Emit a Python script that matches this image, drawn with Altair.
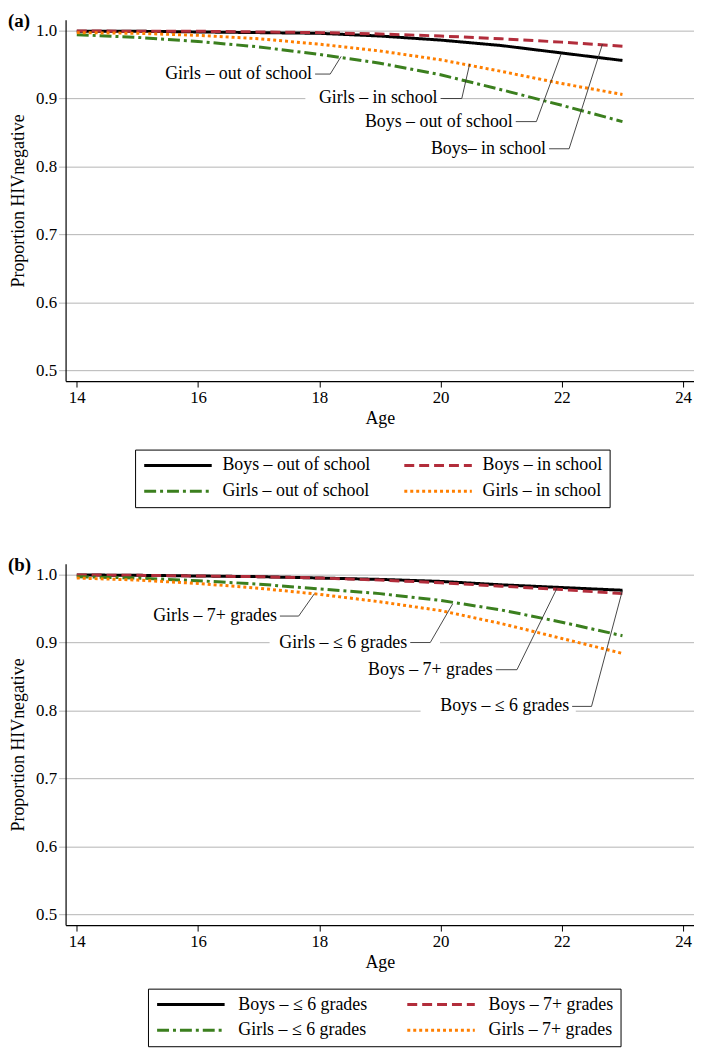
import altair as alt
import pandas as pd

FONT = "Liberation Serif"

# ---------------- data ----------------
AGES = [14, 15, 16, 17, 18, 19, 20, 21, 22, 23]
X_TICKS = [14, 16, 18, 20, 22, 24]
Y_TICKS = [0.5, 0.6, 0.7, 0.8, 0.9, 1.0]

# Panel (a): schooling status
A_SERIES = ["Boys – out of school", "Boys – in school", "Girls – out of school", "Girls – in school"]
A_BOYS_OUT = [0.999, 0.999, 0.998, 0.997, 0.996, 0.992, 0.986, 0.978, 0.967, 0.956]
A_BOYS_IN = [0.9995, 0.999, 0.999, 0.998, 0.997, 0.995, 0.992, 0.988, 0.983, 0.977]
A_GIRLS_OUT = [0.994, 0.990, 0.984, 0.976, 0.965, 0.952, 0.935, 0.913, 0.890, 0.866]
A_GIRLS_IN = [0.997, 0.996, 0.993, 0.988, 0.980, 0.970, 0.957, 0.940, 0.922, 0.906]

A_LABELS = ["Girls – out of school", "Girls – in school", "Boys – out of school", "Boys– in school"]
A_TEXT_X = [17.88, 19.95, 21.19, 21.74]
A_TEXT_Y = [0.936, 0.900, 0.866, 0.826]
A_ELBOW_X = [18.18, 20.35, 21.58, 22.12]
A_POINT_X = [18.36, 20.48, 21.99, 22.67]
A_POINT_Y = [0.962, 0.951, 0.966, 0.980]
A_BOX_X1 = [17.77]
A_BOX_X2 = [20.04]
A_BOX_Y = [0.900]

# Panel (b): grades completed
B_SERIES = ["Boys – ≤ 6 grades", "Boys – 7+ grades", "Girls – ≤ 6 grades", "Girls – 7+ grades"]
B_BOYS_LE6 = [0.9995, 0.999, 0.998, 0.997, 0.995, 0.993, 0.990, 0.985, 0.981, 0.977]
B_BOYS_7P = [0.9995, 0.999, 0.998, 0.997, 0.995, 0.992, 0.988, 0.983, 0.978, 0.972]
B_GIRLS_LE6 = [0.997, 0.995, 0.991, 0.986, 0.979, 0.972, 0.962, 0.948, 0.930, 0.910]
B_GIRLS_7P = [0.995, 0.992, 0.987, 0.980, 0.971, 0.960, 0.947, 0.928, 0.906, 0.884]

B_LABELS = ["Girls – 7+ grades", "Girls – ≤ 6 grades", "Boys – 7+ grades", "Boys – ≤ 6 grades"]
B_TEXT_X = [17.30, 19.45, 20.86, 22.12]
B_TEXT_Y = [0.939, 0.900, 0.860, 0.806]
B_ELBOW_X = [17.66, 19.83, 21.26, 22.49]
B_POINT_X = [17.92, 20.20, 21.92, 23.00]
B_POINT_Y = [0.972, 0.957, 0.980, 0.977]
B_BOX_X1 = [17.18, 19.67]
B_BOX_X2 = [19.99, 22.23]
B_BOX_Y = [0.900, 0.806]

COLORS = ["#000000", "#b22d3b", "#3b7f1e", "#ff7f00"]
DASHES = [[1, 0], [10, 5], [12, 4, 3, 4], [3, 3]]

# ---------------- helpers ----------------
X_AXIS = alt.Axis(values=X_TICKS, title="Age", grid=False, labelFlush=False,
                  tickColor="black", tickSize=6, labelPadding=3, titlePadding=4)
Y_AXIS = alt.Axis(values=Y_TICKS, title="Proportion HIVnegative", format=".1f", grid=True,
                  tickColor="#b4b4b4", tickSize=7, labelPadding=2, titlePadding=8,
                  gridColor="#b4b4b4", gridWidth=1)
X_SCALE = alt.Scale(domain=[13.815, 24.18], nice=False, zero=False)
Y_SCALE = alt.Scale(domain=[0.484, 1.016], nice=False, zero=False)

# legend line symbol: a path from -r to 9r (r = sqrt(size)/2)
SYMBOL_PATH = "M-1,0H9"
SYMBOL_SIZE = 185  # sqrt -> 13.6, so the stroke is ~68 px long


def X(field):
    return alt.X(field, type="quantitative", scale=X_SCALE, axis=X_AXIS)


def Y(field):
    return alt.Y(field, type="quantitative", scale=Y_SCALE, axis=Y_AXIS)


def panel(tag, names, series, labels, tx, ty, ex, px, py, bx1, bx2, by,
          legend_x, legend_y, col_pad, lab_off):
    rows = []
    for name, vals in zip(names, series):
        for a, v in zip(AGES, vals):
            rows.append({"age": a, "p": v, "series": name})
    df = pd.DataFrame(rows)

    legend = alt.Legend(title=None, orient="none", legendX=legend_x, legendY=legend_y,
                        columns=2, direction="horizontal", symbolType=SYMBOL_PATH,
                        symbolSize=SYMBOL_SIZE, symbolStrokeWidth=3, labelFont=FONT,
                        labelFontSize=18, labelColor="black", labelLimit=400,
                        labelOffset=lab_off, columnPadding=col_pad, rowPadding=8,
                        padding=7, strokeColor="black", fillColor="white")

    boxes = pd.DataFrame({"x1": bx1, "x2": bx2,
                          "y1": [b - 0.012 for b in by], "y2": [b + 0.012 for b in by]})
    box_layer = alt.Chart(boxes).mark_rect(fill="white").encode(
        x=X("x1"), x2="x2", y=Y("y1"), y2="y2")

    lines = alt.Chart(df).mark_line(strokeWidth=3, strokeCap="butt").encode(
        x=X("age"), y=Y("p"),
        color=alt.Color("series:N", scale=alt.Scale(domain=names, range=COLORS),
                        sort=names, legend=legend),
        strokeDash=alt.StrokeDash("series:N", scale=alt.Scale(domain=names, range=DASHES),
                                  sort=names, legend=legend),
    )

    lead_rows = []
    for lab, x0, y0, e, cx, cy in zip(labels, tx, ty, ex, px, py):
        lead_rows.append({"label": lab, "ord": 0, "lx": x0 + 0.05, "ly": y0})
        lead_rows.append({"label": lab, "ord": 1, "lx": e, "ly": y0})
        lead_rows.append({"label": lab, "ord": 2, "lx": cx, "ly": cy})
    leaders = alt.Chart(pd.DataFrame(lead_rows)).mark_line(
        color="#333333", strokeWidth=0.9).encode(
        x=X("lx"), y=Y("ly"), detail="label:N", order="ord:Q")

    texts = alt.Chart(pd.DataFrame({"label": labels, "tx": tx, "ty": ty})).mark_text(
        align="right", baseline="middle", font=FONT, fontSize=18, color="black").encode(
        x=X("tx"), y=Y("ty"), text="label:N")

    tag_layer = alt.Chart(pd.DataFrame({"t": [tag]})).mark_text(
        align="left", baseline="middle", font=FONT, fontSize=19, fontWeight="bold",
        color="black").encode(x=alt.value(-58), y=alt.value(1), text="t:N")

    return alt.layer(box_layer, lines, leaders, texts, tag_layer).properties(
        width=633, height=364)


pa = panel("(a)", A_SERIES, [A_BOYS_OUT, A_BOYS_IN, A_GIRLS_OUT, A_GIRLS_IN],
           A_LABELS, A_TEXT_X, A_TEXT_Y, A_ELBOW_X, A_POINT_X, A_POINT_Y,
           A_BOX_X1, A_BOX_X2, A_BOX_Y, 70, 433, 27, 63)
pb = panel("(b)", B_SERIES, [B_BOYS_LE6, B_BOYS_7P, B_GIRLS_LE6, B_GIRLS_7P],
           B_LABELS, B_TEXT_X, B_TEXT_Y, B_ELBOW_X, B_POINT_X, B_POINT_Y,
           B_BOX_X1, B_BOX_X2, B_BOX_Y, 83, 428, 34, 66)

chart = alt.vconcat(pa, pb, spacing=184, bounds="flush").resolve_scale(
    color="independent", strokeDash="independent"
).properties(padding=0).configure_view(stroke=None).configure_axis(
    labelFont=FONT, labelFontSize=17, labelColor="black",
    titleFont=FONT, titleFontSize=18, titleFontWeight="normal", titleColor="black",
    domainColor="black", domainWidth=1.2,
)

chart.save("out.html", embed_options={"renderer": "svg", "actions": False})
